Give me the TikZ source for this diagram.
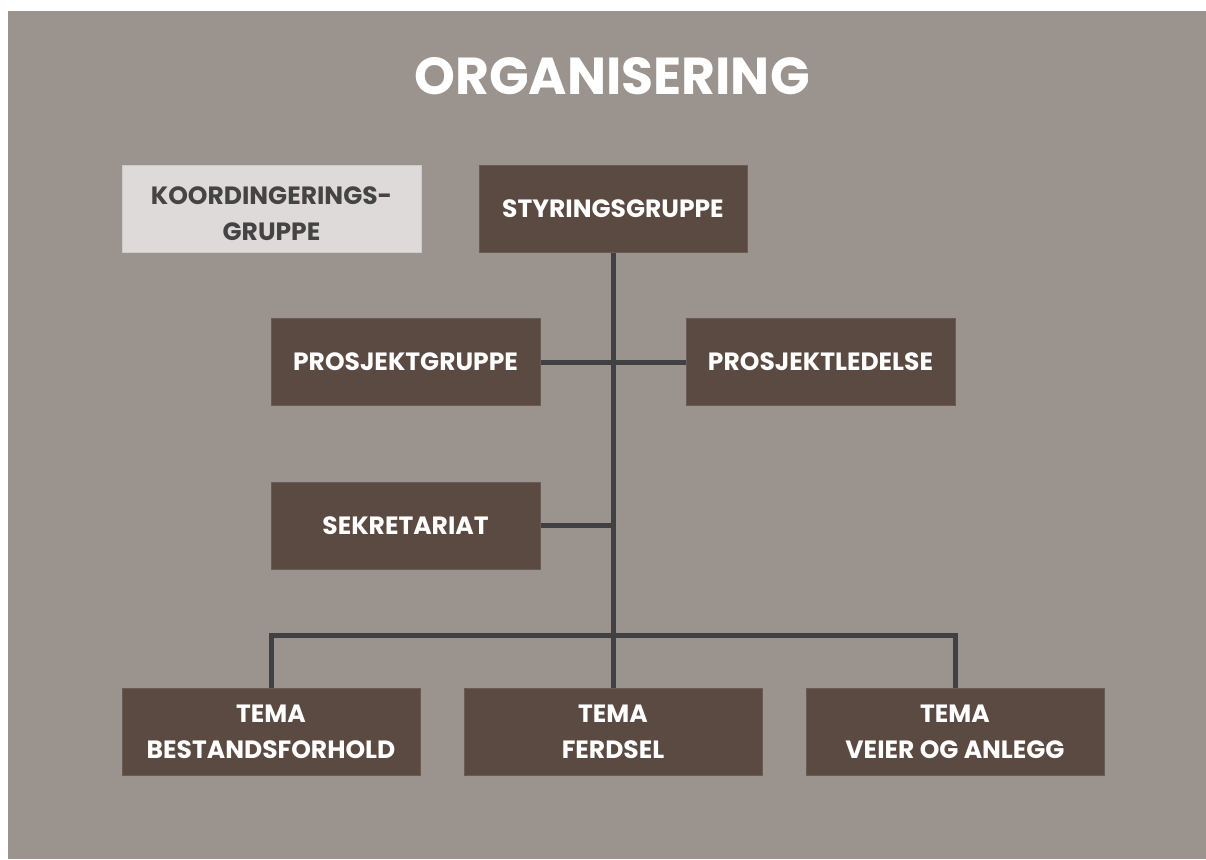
\documentclass[tikz,border=0pt]{standalone}
\usepackage{fontspec}
\setmainfont{Poppins}
\definecolor{bg}{HTML}{9B938D}
\definecolor{boxc}{HTML}{5B4A42}
\definecolor{boxedge}{HTML}{6A5B53}
\definecolor{lightbox}{HTML}{DEDAD9}
\definecolor{lightedge}{HTML}{CFCAC7}
\definecolor{linec}{HTML}{414042}
\definecolor{darktext}{HTML}{444444}
\begin{document}
\begin{tikzpicture}[x=1pt,y=-1pt,
  orgbox/.style={draw=boxedge,line width=1pt,fill=boxc,text=white,font=\bfseries\fontsize{25}{36}\selectfont,align=center,inner sep=0pt,minimum height=87pt},
  lightnode/.style={orgbox,draw=lightedge,fill=lightbox,text=darktext},
  conn/.style={draw=linec,line width=5pt}]
\useasboundingbox (0,0) rectangle (1206,859);
\fill[bg] (8,11) rectangle (1206,859);
\node[font=\bfseries\fontsize{52}{60}\selectfont,text=white] (title) at (612,76) {ORGANISERING};
% nodes
\node[lightnode,minimum width=299pt] (koord) at (271.5,208.5) {\rule{0pt}{28pt}KOORDINGERINGS-\\GRUPPE};
\node[orgbox,minimum width=268pt] (styr) at (613,208.5) {STYRINGSGRUPPE};
\node[orgbox,minimum width=269pt] (pgr) at (405.5,362) {PROSJEKTGRUPPE};
\node[orgbox,minimum width=269pt] (pled) at (820.5,362) {PROSJEKTLEDELSE};
\node[orgbox,minimum width=269pt] (sekr) at (405.5,525.5) {SEKRETARIAT};
\node[orgbox,minimum width=298pt] (tb) at (271,731.5) {TEMA\\BESTANDSFORHOLD};
\node[orgbox,minimum width=298pt] (tf) at (613,731.5) {TEMA\\FERDSEL};
\node[orgbox,minimum width=298pt] (tv) at (955,731.5) {TEMA\\VEIER OG ANLEGG};
% connectors
\coordinate (hub) at (613,635);
\path[conn] (styr.south) -- (tf.north);
\path[conn] (pgr.east) -- (pled.west);
\path[conn] (sekr.east) -- (sekr.east -| styr.south);
\path[conn] (tb.north) |- (hub) -| (tv.north);
\end{tikzpicture}
\end{document}
